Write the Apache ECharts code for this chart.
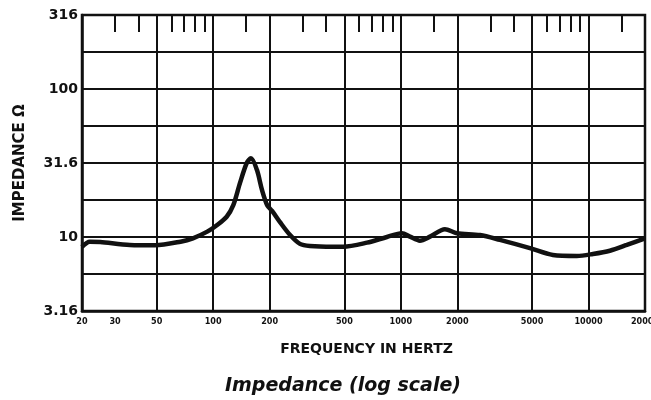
<!DOCTYPE html>
<html>
<head>
<meta charset="utf-8">
<script src="https://cdn.jsdelivr.net/npm/echarts@6/dist/echarts.min.js"></script>
<style>
html,body{margin:0;padding:0;background:#fff;}
#c{width:651px;height:400px;}
</style>
</head>
<body>
<div id="c"></div>
<script>
var freqs = [20, 22, 25, 36, 49, 67, 78, 93, 105, 118, 128, 139, 151, 159, 171, 182, 194, 206, 227, 257, 290, 328, 435, 492, 660, 843, 1013, 1118, 1264, 1430, 1718, 1990, 2640, 3372, 4875, 6460, 8670, 10550, 13000, 16000, 20000];
var impedance = [8.56, 9.29, 9.25, 8.83, 8.79, 9.29, 9.79, 10.86, 12.05, 13.7, 16.4, 23.2, 31.6, 34.0, 28.4, 20.8, 16.4, 15.0, 12.6, 10.3, 8.98, 8.69, 8.59, 8.59, 9.15, 10.0, 10.6, 10.05, 9.44, 10.05, 11.27, 10.6, 10.3, 9.55, 8.4, 7.55, 7.44, 7.67, 8.07, 8.83, 9.79];

var xGridValues = [20, 50, 100, 200, 500, 1000, 2000, 5000, 10000, 20000];
var xLabelValues = [20, 30, 50, 100, 200, 500, 1000, 2000, 5000, 10000, 20000];
var xLabels = ['20', '30', '50', '100', '200', '500', '1000', '2000', '5000', '10000', '20000'];
var xMinorTicks = [30, 40, 60, 70, 80, 90, 150, 300, 400, 600, 700, 800, 900, 1500, 3000, 4000, 6000, 7000, 8000, 9000, 15000];
var yGridValues = [3.16, 5.62, 10, 17.8, 31.6, 56.2, 100, 178, 316];
var yLabelValues = [3.16, 10, 31.6, 100, 316];
var yLabels = ['3.16', '10', '31.6', '100', '316'];

function nearestLabel(v, vals, labs) {
  var best = 0, bd = Infinity;
  for (var i = 0; i < vals.length; i++) {
    var d = Math.abs(Math.log(v) - Math.log(vals[i]));
    if (d < bd) { bd = d; best = i; }
  }
  return labs[best];
}

var data = freqs.map(function (f, i) { return [f, impedance[i]]; });

var chart = echarts.init(document.getElementById('c'), null, {renderer: 'canvas'});
chart.setOption({
  animation: false,
  backgroundColor: '#fff',
  title: {
    text: 'Impedance (log scale)',
    left: 338, top: 372, textAlign: 'center',
    textStyle: {fontFamily: 'DejaVu Sans, sans-serif', fontSize: 19, fontWeight: 'bold', fontStyle: 'italic', color: '#111'}
  },
  grid: {left: 82, right: 6, top: 15, bottom: 89, show: true, borderColor: '#111', borderWidth: 2.5, backgroundColor: 'transparent', containLabel: false, outerBoundsMode: 'none'},
  xAxis: [{
    type: 'log', logBase: 10, min: 20, max: 20000,
    name: 'FREQUENCY IN HERTZ', nameLocation: 'middle', nameGap: 31,
    nameTextStyle: {fontFamily: 'DejaVu Sans, sans-serif', fontSize: 14, fontWeight: 'bold', color: '#111', padding: [0, 0, 0, 6]},
    axisLine: {show: true, lineStyle: {color: '#111', width: 2.5}},
    axisTick: {show: false, customValues: xGridValues},
    splitLine: {show: true, lineStyle: {color: '#111', width: 2}},
    axisLabel: {
      customValues: xLabelValues, margin: 6,
      fontFamily: 'Liberation Sans Narrow, DejaVu Sans Condensed, Arial Narrow, sans-serif',
      fontSize: 9, fontWeight: 'bold', color: '#111',
      formatter: function (v) { return nearestLabel(v, xLabelValues, xLabels); }
    }
  }, {
    type: 'log', logBase: 10, min: 20, max: 20000, position: 'top',
    axisLine: {show: false},
    axisTick: {show: true, inside: true, length: 17, customValues: xMinorTicks, lineStyle: {color: '#111', width: 2}},
    axisLabel: {show: false},
    splitLine: {show: false}
  }],
  yAxis: {
    type: 'log', logBase: 10, min: 3.16, max: 316,
    name: 'IMPEDANCE Ω', nameLocation: 'middle', nameGap: 54, nameRotate: 90,
    nameTextStyle: {fontFamily: 'DejaVu Sans, sans-serif', fontSize: 15, fontWeight: 'bold', color: '#111'},
    axisLine: {show: true, lineStyle: {color: '#111', width: 2.5}},
    axisTick: {show: false, customValues: yGridValues},
    splitLine: {show: true, lineStyle: {color: '#111', width: 2}},
    axisLabel: {
      customValues: yLabelValues, margin: 4, showMinLabel: true, showMaxLabel: true,
      fontFamily: 'DejaVu Sans, sans-serif', fontSize: 14, fontWeight: 'bold', color: '#111',
      formatter: function (v) { return nearestLabel(v, yLabelValues, yLabels); }
    }
  },
  series: [{
    type: 'line', xAxisIndex: 0, data: data, smooth: 0.3, symbol: 'none',
    lineStyle: {color: '#111', width: 4.5}
  }]
});
</script>
</body>
</html>
